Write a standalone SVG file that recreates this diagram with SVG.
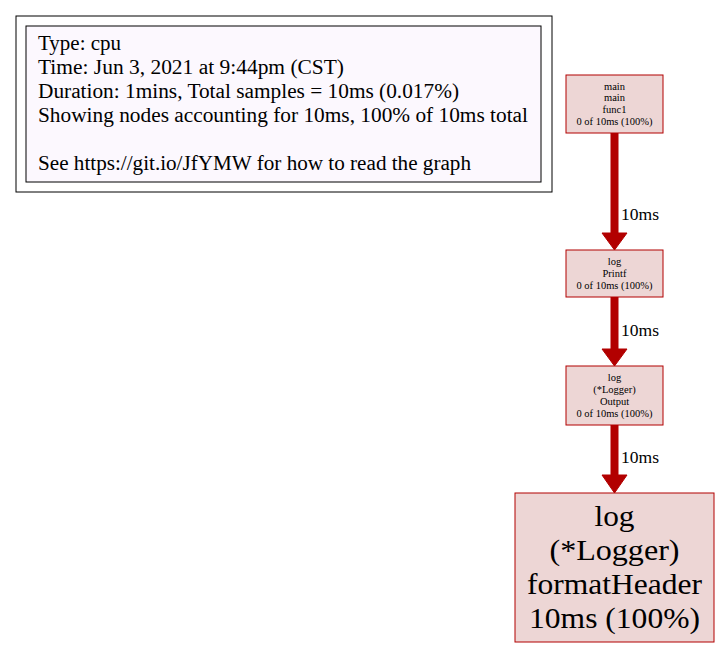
<svg xmlns="http://www.w3.org/2000/svg" width="720" height="648" viewBox="0 0 720 648">
<style>
.lg{font-family:"Liberation Serif","Times New Roman",serif;font-size:20px;fill:#000}
.nd{fill:#edd6d5;stroke:#b20000;stroke-width:1}
.sm{font-family:"Liberation Serif","Times New Roman",serif;font-size:10.5px;fill:#000;text-anchor:middle}
.bg{font-family:"Liberation Serif","Times New Roman",serif;font-size:30px;fill:#000;text-anchor:middle}
.el{font-family:"Liberation Serif","Times New Roman",serif;font-size:16px;fill:#000}
.sh{stroke:#b20000;stroke-width:8;fill:none}
.ah{fill:#b20000;stroke:#b20000;stroke-width:1}
</style>
<rect width="720" height="648" fill="#ffffff"/>
<g id="legend">
<rect x="16" y="16" width="536" height="176" fill="none" stroke="#000" stroke-width="1"/>
<rect x="26" y="26" width="515" height="156" fill="#fcf8fe" stroke="#000" stroke-width="1"/>
<text class="lg" x="38" y="50" textLength="83" lengthAdjust="spacingAndGlyphs">Type: cpu</text>
<text class="lg" x="38" y="74" textLength="306" lengthAdjust="spacingAndGlyphs">Time: Jun 3, 2021 at 9:44pm (CST)</text>
<text class="lg" x="38" y="98" textLength="421" lengthAdjust="spacingAndGlyphs">Duration: 1mins, Total samples = 10ms (0.017%)</text>
<text class="lg" x="38" y="122" textLength="490" lengthAdjust="spacingAndGlyphs">Showing nodes accounting for 10ms, 100% of 10ms total</text>
<text class="lg" x="38" y="170" textLength="433" lengthAdjust="spacingAndGlyphs">See https://git.io/JfYMW for how to read the graph</text>
</g>
<g id="connectors">
<line class="sh" x1="614.5" y1="133" x2="614.5" y2="234"/>
<polygon class="ah" points="602,233 627,233 614.5,250"/>
<text class="el" x="621" y="220" textLength="38" lengthAdjust="spacingAndGlyphs">10ms</text>
<line class="sh" x1="614.5" y1="297" x2="614.5" y2="350"/>
<polygon class="ah" points="602,349 627,349 614.5,366"/>
<text class="el" x="621" y="336" textLength="38" lengthAdjust="spacingAndGlyphs">10ms</text>
<line class="sh" x1="614.5" y1="425" x2="614.5" y2="476"/>
<polygon class="ah" points="602,475 627,475 614.5,493"/>
<text class="el" x="621" y="463" textLength="38" lengthAdjust="spacingAndGlyphs">10ms</text>
</g>
<g id="node1">
<rect class="nd" x="566" y="75" width="97" height="58"/>
<text class="sm" x="614.5" y="90">main</text>
<text class="sm" x="614.5" y="101">main</text>
<text class="sm" x="614.5" y="113">func1</text>
<text class="sm" x="614.5" y="125" textLength="76" lengthAdjust="spacingAndGlyphs">0 of 10ms (100%)</text>
</g>
<g id="node2">
<rect class="nd" x="566" y="250" width="97" height="47"/>
<text class="sm" x="614.5" y="265">log</text>
<text class="sm" x="614.5" y="277">Printf</text>
<text class="sm" x="614.5" y="289" textLength="76" lengthAdjust="spacingAndGlyphs">0 of 10ms (100%)</text>
</g>
<g id="node3">
<rect class="nd" x="566" y="366" width="97" height="59"/>
<text class="sm" x="614.5" y="381">log</text>
<text class="sm" x="614.5" y="393">(*Logger)</text>
<text class="sm" x="614.5" y="405">Output</text>
<text class="sm" x="614.5" y="417" textLength="76" lengthAdjust="spacingAndGlyphs">0 of 10ms (100%)</text>
</g>
<g id="node4">
<rect class="nd" x="515" y="493" width="199" height="149"/>
<text class="bg" x="614.5" y="526" textLength="40" lengthAdjust="spacingAndGlyphs">log</text>
<text class="bg" x="614.5" y="560" textLength="130" lengthAdjust="spacingAndGlyphs">(*Logger)</text>
<text class="bg" x="614.5" y="594" textLength="175" lengthAdjust="spacingAndGlyphs">formatHeader</text>
<text class="bg" x="614.5" y="628" textLength="171" lengthAdjust="spacingAndGlyphs">10ms (100%)</text>
</g>
</svg>
